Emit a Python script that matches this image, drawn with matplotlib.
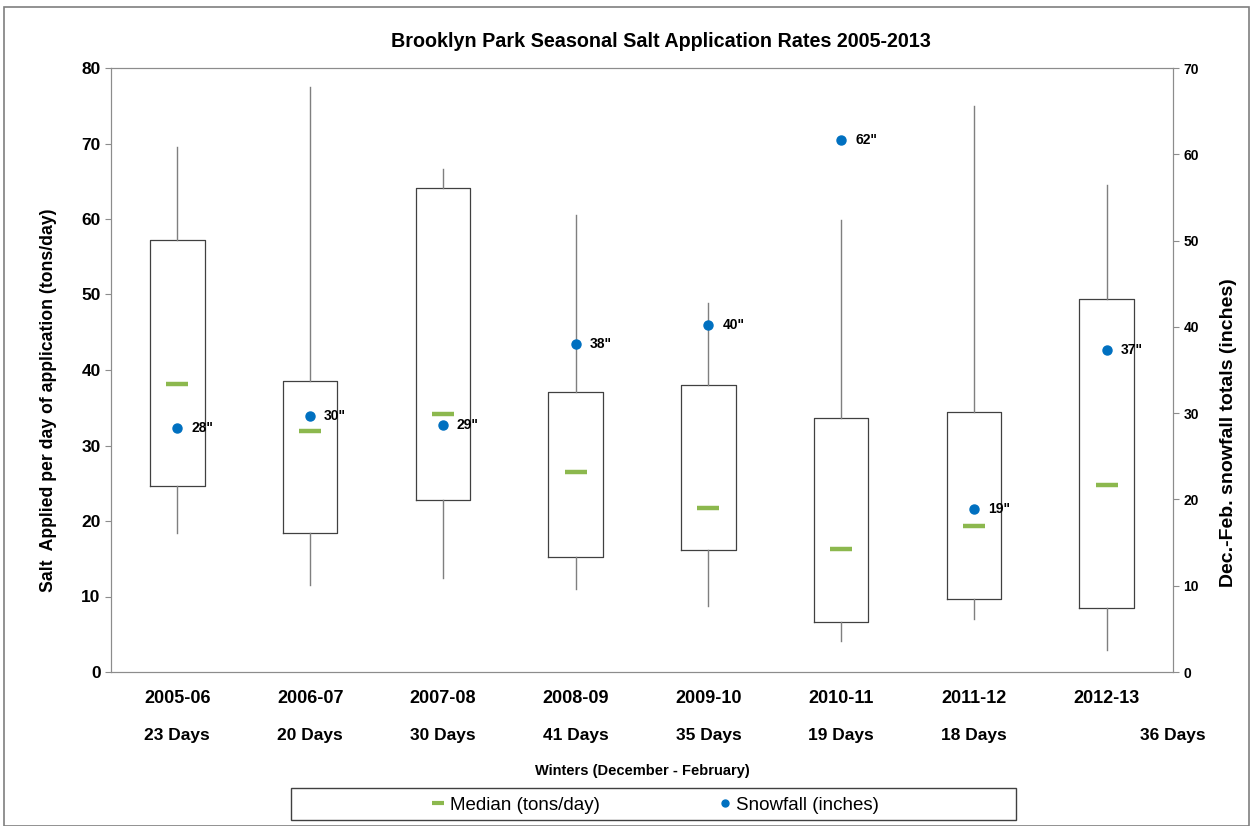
import matplotlib.pyplot as plt
from matplotlib.lines import Line2D
from matplotlib.patches import Rectangle
import matplotlib.transforms as mtransforms

winters = ['2005-06', '2006-07', '2007-08', '2008-09', '2009-10', '2010-11', '2011-12', '2012-13']
days = ['23 Days', '20 Days', '30 Days', '41 Days', '35 Days', '19 Days', '18 Days', '36 Days']

whisker_lo = [18.4, 11.5, 12.5, 11.0, 8.7, 4.1, 7.0, 2.9]
box_lo = [24.6, 18.4, 22.8, 15.2, 16.2, 6.6, 9.7, 8.5]
median = [38.1, 31.9, 34.2, 26.5, 21.7, 16.3, 19.3, 24.8]
box_hi = [57.2, 38.5, 64.1, 37.1, 38.0, 33.6, 34.4, 49.4]
whisker_hi = [69.5, 77.5, 66.6, 60.5, 48.9, 59.9, 75.0, 64.5]

snowfall = [28, 30, 29, 38, 40, 62, 19, 37]
snow_plot = [28.3, 29.7, 28.6, 38.0, 40.2, 61.6, 18.9, 37.3]

green = '#8CB84E'
blue = '#0070C0'
grey = '#8c8c8c'
plt.rcParams['font.family'] = ['Liberation Sans', 'DejaVu Sans']

fig = plt.figure(figsize=(12.52, 8.26), dpi=100)
ax = fig.add_axes([111 / 1252, 154 / 826, 1062 / 1252, 604 / 826])

pos = [i + 0.5 for i in range(len(winters))]
stats = []
for i in range(len(winters)):
    stats.append({'whislo': whisker_lo[i], 'q1': box_lo[i], 'med': median[i],
                  'q3': box_hi[i], 'whishi': whisker_hi[i], 'fliers': []})

ax.bxp(stats, positions=pos, widths=0.41, showcaps=False, showfliers=False,
       boxprops=dict(color='#404040', linewidth=0.9),
       whiskerprops=dict(color='#7f7f7f', linewidth=1.0),
       medianprops=dict(linewidth=0))
ax.plot(pos, median, linestyle='none', marker='_', markersize=16,
        markeredgewidth=3.2, color=green, zorder=4)

ax.set_xlim(0, 8)
ax.set_ylim(0, 80)
ax.set_yticks(range(0, 81, 10))
ax.tick_params(axis='y', labelsize=12.5, length=4, color=grey)
for t in ax.get_yticklabels():
    t.set_fontweight('bold')
ax.set_xticks(pos)
ax.set_xticklabels(winters, fontsize=13, fontweight='bold')
ax.tick_params(axis='x', length=0, pad=13)
for s in ax.spines.values():
    s.set_color(grey)
ax.set_ylabel('Salt  Applied per day of application (tons/day)', fontsize=12.7,
              fontweight='bold')
ax.yaxis.set_label_coords(-0.051, 0.45)

trans = mtransforms.blended_transform_factory(ax.transData, ax.transAxes)
for i, d in enumerate(days):
    x = pos[i] + (0.5 if i == len(days) - 1 else 0)
    ax.text(x, -0.105, d, transform=trans, ha='center', va='center',
            fontsize=12.5, fontweight='bold')
ax.text(0.5, -0.164, 'Winters (December - February)', transform=ax.transAxes,
        ha='center', va='center', fontsize=10.5, fontweight='bold')

ax2 = ax.twinx()
ax2.set_ylim(0, 70)
ax2.set_yticks(range(0, 71, 10))
ax2.tick_params(axis='y', labelsize=10, length=4, color=grey)
for t in ax2.get_yticklabels():
    t.set_fontweight('bold')
for s in ax2.spines.values():
    s.set_color(grey)
ax2.set_ylabel('Dec.-Feb. snowfall totals (inches)', fontsize=14, fontweight='bold')
ax2.yaxis.set_label_coords(1.044, 0.396)
ax2.plot(pos, snow_plot, linestyle='none', marker='o', markersize=6.5, color=blue, zorder=5)
for x, yv, s in zip(pos, snow_plot, snowfall):
    ax2.annotate('%d"' % s, xy=(x, yv), xytext=(10, 0), textcoords='offset points',
                 va='center', fontsize=10, fontweight='bold')

ax.set_title('Brooklyn Park Seasonal Salt Application Rates 2005-2013',
             fontsize=14.2, fontweight='bold', pad=15, x=0.518)

handles = [Line2D([], [], linestyle='none', marker='_', markersize=9, markeredgewidth=3, color=green),
           Line2D([], [], linestyle='none', marker='o', markersize=5, color=blue)]
fig.legend(handles, ['Median (tons/day)', 'Snowfall (inches)'], loc='center',
           bbox_to_anchor=(656 / 1252, 21 / 826), ncol=2, frameon=False,
           fontsize=13.5, handlelength=0.6, handletextpad=0.3, columnspacing=6.4)
fig.patches.append(Rectangle((291 / 1252, 6 / 826), 725 / 1252, 32 / 826,
                             transform=fig.transFigure, fill=False,
                             edgecolor='#404040', linewidth=1))
fig.patches.append(Rectangle((4 / 1252, 0), 1245 / 1252, 819 / 826,
                             transform=fig.transFigure, fill=False,
                             edgecolor='#7f7f7f', linewidth=1.2))

fig.savefig('out.png', dpi=100)
